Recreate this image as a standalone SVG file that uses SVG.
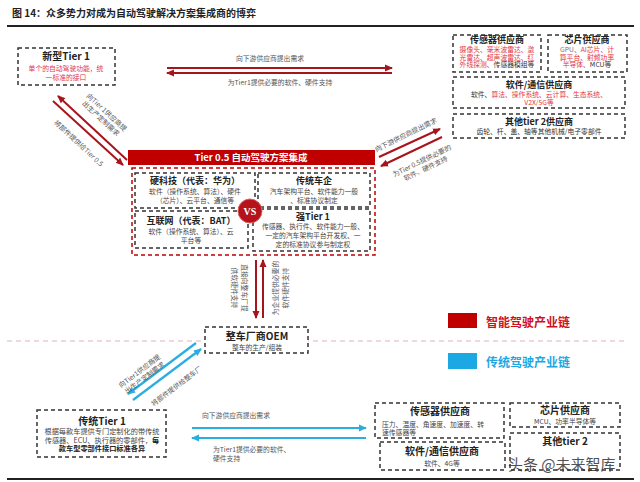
<svg xmlns="http://www.w3.org/2000/svg" width="640" height="482" viewBox="0 0 640 482">
<style>
text{font-family:"Noto Sans CJK SC","Liberation Sans",sans-serif;}
.t{font-size:9px;font-weight:bold;fill:#222;text-anchor:middle;}
.tb{font-size:10px;font-weight:bold;fill:#222;text-anchor:middle;}
.b{font-size:6.8px;fill:#444;text-anchor:middle;}
.r{fill:#e2363f;}
.k{fill:#333;}
.box{fill:#fff;stroke:#333;stroke-width:1.5;stroke-dasharray:4 3;}
.rl{fill:none;stroke:#a8141c;stroke-width:2;}
.bl{fill:none;stroke:#2aaee2;stroke-width:2.2;}
.lr{font-size:6.8px;fill:#555;text-anchor:middle;}
</style>
<defs>
<marker id="ar" markerWidth="8" markerHeight="8" refX="7" refY="4" orient="auto" markerUnits="userSpaceOnUse"><path d="M0,0.5 L8,4 L0,7.5 Z" fill="#a8141c"/></marker>
<marker id="ab" markerWidth="8" markerHeight="8" refX="7" refY="4" orient="auto" markerUnits="userSpaceOnUse"><path d="M0,0.5 L8,4 L0,7.5 Z" fill="#2aaee2"/></marker>
</defs>
<rect width="640" height="482" fill="#fff"/>
<text x="12" y="17" style="font-size:10px;font-weight:bold;fill:#222;">图 14：众多势力对成为自动驾驶解决方案集成商的博弈</text>
<line x1="7" y1="26" x2="634" y2="26" stroke="#222" stroke-width="2"/>
<line x1="7" y1="479" x2="634" y2="479" stroke="#222" stroke-width="2"/>
<line x1="7" y1="341" x2="625" y2="341" stroke="#e0b4b4" stroke-width="1.2" stroke-dasharray="5 4"/>

<g id="connectors">
<line class="rl" x1="167" y1="68" x2="392" y2="68" marker-end="url(#ar)"/>
<line class="rl" x1="392" y1="73" x2="167" y2="73" marker-end="url(#ar)"/>
<text class="lr" x="270" y="61">向下游供应商提出需求</text>
<text class="lr" x="280" y="85">为Tier1提供必要的软件、硬件支持</text>

<line class="rl" x1="53" y1="101" x2="123" y2="165" marker-end="url(#ar)"/>
<line class="rl" x1="127" y1="160" x2="58" y2="96" marker-end="url(#ar)"/>
<text class="lr" transform="translate(105,114) rotate(43)"><tspan x="0" y="0">向Tier 1供应商提</tspan><tspan x="0" y="8.5">出生产定制需求</tspan></text>
<text class="lr" transform="translate(77,145) rotate(43)">将部件提供给Tier 0.5</text>

<line class="rl" x1="379" y1="157" x2="440" y2="129" marker-end="url(#ar)"/>
<line class="rl" x1="442" y1="137" x2="381" y2="166" marker-end="url(#ar)"/>
<text class="lr" transform="translate(407,137) rotate(-26)">向下游供应商提出需求</text>
<text class="lr" transform="translate(423,163) rotate(-26)"><tspan x="0" y="0">为Tier 0.5提供必要的</tspan><tspan x="0" y="8.5">软件、硬件支持</tspan></text>

<line class="rl" x1="256" y1="260" x2="256" y2="318" marker-end="url(#ar)"/>
<line class="rl" x1="263" y1="318" x2="263" y2="260" marker-end="url(#ar)"/>
<text class="lr" transform="translate(242,288) rotate(90)"><tspan x="0" y="0">直接向整车厂提</tspan><tspan x="0" y="10">供软硬件支持</tspan></text>
<text class="lr" transform="translate(278,288) rotate(-90)"><tspan x="0" y="0">为企业提供必要的</tspan><tspan x="0" y="10">软件硬件支持</tspan></text>

<line class="bl" x1="196" y1="343" x2="128" y2="394" marker-end="url(#ab)"/>
<line class="bl" x1="133" y1="400" x2="201" y2="349" marker-end="url(#ab)"/>
<text class="lr" transform="translate(141,373) rotate(-37)"><tspan x="0" y="0">向Tier1供应商提</tspan><tspan x="0" y="8.5">出生产定制需求</tspan></text>
<text class="lr" transform="translate(178,388) rotate(-37)">将部件提供给整车厂</text>

<line class="bl" x1="192" y1="428" x2="366" y2="428" marker-end="url(#ab)"/>
<line class="bl" x1="366" y1="438" x2="192" y2="438" marker-end="url(#ab)"/>
<text class="lr" x="202" y="418" style="text-anchor:start">向下游供应商提出需求</text>
<text class="lr" style="text-anchor:start"><tspan x="213" y="452">为Tier1提供必要的软件、</tspan><tspan x="213" y="461">硬件支持</tspan></text>
</g>

<g id="new-tier1">
<rect class="box" x="18" y="48" width="97" height="37"/>
<text class="tb" x="66" y="60">新型Tier 1</text>
<text class="b r" x="66" y="71">单个的自动驾驶功能，统</text>
<text class="b r" x="66" y="79.5">一标准的接口</text>
</g>

<g id="sensor-top">
<rect class="box" x="453" y="35" width="88" height="37"/>
<text class="t" x="497" y="43">传感器供应商</text>
<text class="b r" x="497" y="52">摄像头、毫米波雷达、激</text>
<text class="b r" x="497" y="59.5">光雷达、超声波雷达、红</text>
<text class="b" x="497" y="67"><tspan class="r">外线探测、</tspan><tspan class="k">传感器模组等</tspan></text>
</g>
<g id="chip-top">
<rect class="box" x="548" y="35" width="79" height="37"/>
<text class="t" x="587" y="43">芯片供应商</text>
<text class="b" x="587" y="52"><tspan fill="#777">GPU、</tspan><tspan class="r">AI芯片、计</tspan></text>
<text class="b r" x="587" y="59.5">算平台、射频功率</text>
<text class="b" x="587" y="67"><tspan class="r">半导体、</tspan><tspan class="k">MCU等</tspan></text>
</g>
<g id="software-top">
<rect class="box" x="453" y="77" width="172" height="31"/>
<text class="t" x="539" y="88">软件/通信供应商</text>
<text class="b" x="539" y="97"><tspan class="k">软件、</tspan><tspan class="r">算法、操作系统、云计算、生态系统、</tspan></text>
<text class="b r" x="539" y="105">V2X/5G等</text>
</g>
<g id="tier2-top">
<rect class="box" x="453" y="114" width="172" height="24"/>
<text class="t" x="539" y="125">其他tier 2供应商</text>
<text class="b k" x="539" y="134">齿轮、杆、盖、轴等其他机械/电子零部件</text>
</g>

<g id="tier05">
<rect x="128" y="150" width="247" height="15" fill="#c00000"/>
<text x="251" y="161" style="font-size:9.5px;font-weight:bold;fill:#fff;text-anchor:middle;">Tier 0.5 自动驾驶方案集成</text>
<rect x="132" y="168" width="243" height="87" fill="none" stroke="#c00000" stroke-width="1.5" stroke-dasharray="4 3"/>
</g>
<g id="hardtech">
<rect class="box" x="135" y="173" width="120" height="35"/>
<text class="t" x="195" y="184">硬科技（代表：华为）</text>
<text class="b" x="195" y="194">软件（操作系统、算法）、硬件</text>
<text class="b" x="195" y="203">（芯片）、云平台、通信等</text>
</g>
<g id="oem-trad">
<rect class="box" x="258" y="173" width="112" height="34"/>
<text class="t" x="314" y="184">传统车企</text>
<text class="b" x="314" y="194">汽车架构平台、软件能力一般</text>
<text class="b" x="314" y="203">、标准协议制定</text>
</g>
<g id="internet">
<rect class="box" x="135" y="211" width="113" height="37"/>
<text class="t" x="191" y="224">互联网（代表：BAT）</text>
<text class="b" x="191" y="234">软件（操作系统、算法）、云</text>
<text class="b" x="191" y="243">平台等</text>
</g>
<g id="strong-tier1">
<rect class="box" x="253" y="209" width="117" height="42"/>
<text class="t" x="313" y="219.5">强Tier 1</text>
<text class="b" x="313" y="229">传感器、执行件、软件能力一般、</text>
<text class="b" x="313" y="238">一定的汽车架构平台开发权、一</text>
<text class="b" x="313" y="247">定的标准协议参与制定权</text>
</g>
<g id="vs">
<circle cx="250" cy="211" r="12" fill="#b5121b" stroke="#e06060" stroke-width="1"/>
<text x="250" y="215" style="font-family:'Liberation Serif',serif;font-size:10px;font-weight:bold;fill:#fff;text-anchor:middle;">VS</text>
</g>

<g id="oem">
<rect class="box" x="205" y="327" width="103" height="26"/>
<text class="tb" x="257" y="340">整车厂商OEM</text>
<text class="b" x="257" y="350">整车的生产/组装</text>
</g>

<g id="legend">
<rect x="448" y="313" width="29" height="15" fill="#c00000"/>
<text x="486" y="327" style="font-size:12px;font-weight:bold;fill:#d0101e;">智能驾驶产业链</text>
<rect x="448" y="353" width="29" height="16" fill="#1ca8e3"/>
<text x="486" y="367" style="font-size:12px;font-weight:bold;fill:#1ca8e3;">传统驾驶产业链</text>
</g>

<g id="trad-tier1">
<rect class="box" x="37" y="410" width="129" height="47"/>
<text class="tb" x="102" y="425">传统Tier 1</text>
<text class="b" x="102" y="434" style="font-size:7.2px">根据每款车提供专门定制化的带传统</text>
<text class="b" x="102" y="442.5" style="font-size:7.2px"><tspan>传感器、ECU、执行器的零部件，</tspan><tspan font-weight="bold" fill="#222">每</tspan></text>
<text class="b" x="102" y="451" style="font-size:7.2px;font-weight:bold;fill:#222">款车型零部件接口标准各异</text>
</g>

<g id="sensor-bot">
<rect class="box" x="375" y="403" width="129" height="35"/>
<text class="tb" x="440" y="415">传感器供应商</text>
<text class="b" x="382" y="426.5" style="text-anchor:start">压力、温度、角速度、加速度、转</text>
<text class="b" x="382" y="434.5" style="text-anchor:start">速传感器等</text>
</g>
<g id="chip-bot">
<rect class="box" x="510" y="403" width="110" height="24"/>
<text class="tb" x="565" y="414">芯片供应商</text>
<text class="b" x="565" y="424">MCU、功率半导体等</text>
</g>
<g id="software-bot">
<rect class="box" x="380" y="442" width="125" height="28"/>
<text class="tb" x="442" y="455">软件/通信供应商</text>
<text class="b" x="442" y="465.5">软件、4G等</text>
</g>
<g id="tier2-bot">
<rect class="box" x="510" y="433" width="110" height="37"/>
<text class="tb" x="565" y="445">其他tier 2</text>
</g>
<text x="508" y="470" style="font-size:15px;fill:#333;opacity:0.85;">头条 @未来智库</text>
</svg>
